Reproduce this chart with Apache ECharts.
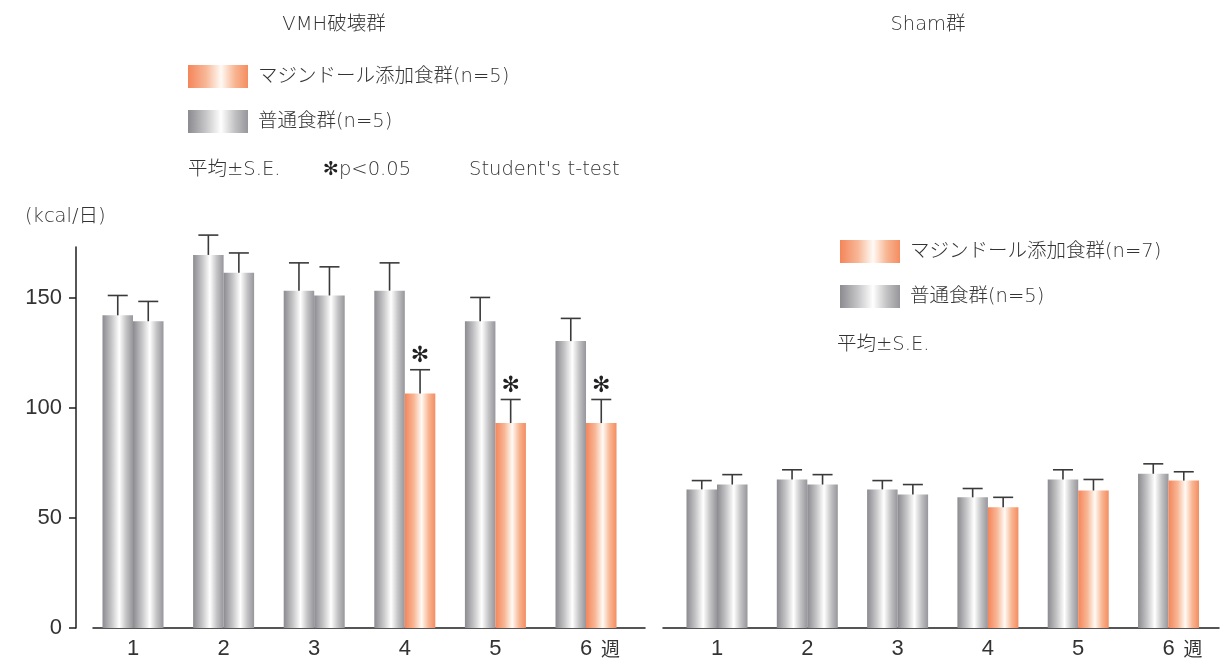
<!DOCTYPE html>
<html>
<head>
<meta charset="utf-8">
<script src="https://cdn.jsdelivr.net/npm/echarts@6/dist/echarts.min.js"></script>
<style>
  html, body { margin: 0; padding: 0; background: #ffffff; }
  #chart { width: 1221px; height: 660px; }
</style>
</head>
<body>
<div id="chart"></div>
<script>
// Weeks on the x axis
const weeks = [1, 2, 3, 4, 5, 6];
const weekLabels = ['1', '2', '3', '4', '5', '6'];
const yTicks = [0, 50, 100, 150];

// VMH lesion group (kcal/day), mean and S.E.
const vmhNormalMean = [141.9, 169.3, 153.1, 153.1, 139.2, 130.2];
const vmhNormalSE   = [9.0, 9.0, 12.6, 12.6, 10.8, 10.3];
const vmhMazMean    = [139.2, 161.2, 150.9, 106.4, 93.0, 93.0];
const vmhMazSE      = [9.0, 9.0, 13.0, 10.8, 10.7, 10.7];
const vmhMazSig     = [0, 0, 0, 1, 1, 1];

// Sham group (kcal/day), mean and S.E.
const shamNormalMean = [62.9, 67.4, 62.9, 59.3, 67.4, 70.0];
const shamNormalSE   = [4.0, 4.4, 4.0, 4.0, 4.4, 4.5];
const shamMazMean    = [65.1, 65.1, 60.6, 54.8, 62.4, 66.9];
const shamMazSE      = [4.5, 4.5, 4.5, 4.5, 5.0, 4.0];
const shamMazSig     = [0, 0, 0, 0, 0, 0];

// Mazindol diet is given from this week on (bars before it are drawn grey)
const mazStartWeek = 4;

const FONT = "'DejaVu Sans', 'Noto Sans CJK JP', sans-serif";
const NUM_FONT = "'Liberation Sans', Arial, sans-serif";
const CJK_FONT = "'Noto Sans CJK JP', sans-serif";
const TEXT = '#333333';
const BAR_W = 30.5;
const Y_MAX = 172.9;
const TXT = '200 19.5px ' + FONT;

function grayFill() {
  return new echarts.graphic.LinearGradient(0, 0, 1, 0, [
    { offset: 0, color: '#8b8b90' },
    { offset: 0.3, color: '#c6c6c8' },
    { offset: 0.55, color: '#ffffff' },
    { offset: 0.78, color: '#c2c2c4' },
    { offset: 1, color: '#96969b' }
  ]);
}
function orangeFill() {
  return new echarts.graphic.LinearGradient(0, 0, 1, 0, [
    { offset: 0, color: '#f4855a' },
    { offset: 0.3, color: '#f8b796' },
    { offset: 0.55, color: '#fffaf5' },
    { offset: 0.78, color: '#f8b592' },
    { offset: 1, color: '#f48d60' }
  ]);
}

function rows(means, ses, sig, isMaz) {
  return weeks.map((w, i) => [w, means[i], ses[i], sig ? sig[i] : 0,
    isMaz && w >= mazStartWeek ? 1 : 0]);
}

// side: -1 draws the bar left of the week centre, +1 right of it
function makeRenderer(side) {
  return function (params, api) {
    const x = api.value(0), v = api.value(1), se = api.value(2);
    const star = api.value(3), orange = api.value(4);
    const top = api.coord([x, v]);
    const base = api.coord([x, 0]);
    const err = api.coord([x, v + se]);
    const left = side < 0 ? top[0] - BAR_W : top[0];
    const cx = left + BAR_W / 2;
    const children = [
      { type: 'rect', shape: { x: left, y: top[1], width: BAR_W, height: base[1] - top[1] },
        style: { fill: orange ? orangeFill() : grayFill() } },
      { type: 'line', shape: { x1: cx, y1: top[1], x2: cx, y2: err[1] },
        style: { stroke: '#3a3a3a', lineWidth: 1.6 } },
      { type: 'line', shape: { x1: cx - 10, y1: err[1], x2: cx + 10, y2: err[1] },
        style: { stroke: '#3a3a3a', lineWidth: 1.6 } }
    ];
    if (star) {
      children.push({ type: 'text', x: cx, y: err[1] - 13,
        style: { text: '✻', fill: '#222', font: "bold 22px 'DejaVu Sans', sans-serif",
                 align: 'center', verticalAlign: 'middle' } });
    }
    return { type: 'group', children };
  };
}

const weekLabel = {
  customValues: weeks,
  margin: 10,
  color: TEXT,
  fontFamily: NUM_FONT,
  fontSize: 22,
  formatter: v => v === 6 ? '{p|}{n|' + weekLabels[5] + '}{u|  週}' : weekLabels[v - 1],
  rich: {
    p: { width: 28 },
    n: { fontSize: 22, fontFamily: NUM_FONT, color: TEXT },
    u: { fontSize: 19, fontFamily: CJK_FONT, color: TEXT, width: 28 }
  }
};

function xAxisFor(gridIndex, min, max) {
  return {
    type: 'value', gridIndex, min, max,
    axisLine: { show: true, lineStyle: { color: '#1e1e1e', width: 1.5 } },
    axisTick: { show: false },
    splitLine: { show: false },
    axisLabel: weekLabel
  };
}

function legendBlock(x, y, label1, label2) {
  return [
    { type: 'rect', left: x, top: y, shape: { width: 60, height: 23 }, style: { fill: orangeFill() } },
    { type: 'text', x: x + 70, y: y + 12, style: { text: label1, font: TXT, fill: TEXT, verticalAlign: 'middle' } },
    { type: 'rect', left: x, top: y + 45, shape: { width: 60, height: 23 }, style: { fill: grayFill() } },
    { type: 'text', x: x + 70, y: y + 57, style: { text: label2, font: TXT, fill: TEXT, verticalAlign: 'middle' } }
  ];
}

const chart = echarts.init(document.getElementById('chart'), null, { renderer: 'canvas' });

chart.setOption({
  backgroundColor: '#ffffff',
  animation: false,
  grid: [
    { left: 93, top: 247, width: 552, height: 385 },
    { left: 663, top: 247, width: 556, height: 385 }
  ],
  xAxis: [
    xAxisFor(0, 0.5585, 6.651),
    xAxisFor(1, 0.402, 6.559)
  ],
  yAxis: [
    {
      type: 'value', gridIndex: 0, min: 0, max: Y_MAX, offset: 17,
      axisLine: { show: true, lineStyle: { color: '#1e1e1e', width: 1.5 } },
      axisTick: { show: true, length: 7, customValues: yTicks, lineStyle: { color: '#1e1e1e', width: 1.5 } },
      splitLine: { show: false },
      axisLabel: { customValues: yTicks, margin: 14, color: TEXT, fontFamily: NUM_FONT, fontSize: 22 }
    },
    {
      type: 'value', gridIndex: 1, min: 0, max: Y_MAX, show: false,
      splitLine: { show: false }
    }
  ],
  series: [
    { type: 'custom', name: '普通食群', xAxisIndex: 0, yAxisIndex: 0,
      renderItem: makeRenderer(-1), data: rows(vmhNormalMean, vmhNormalSE, null, false) },
    { type: 'custom', name: 'マジンドール添加食群', xAxisIndex: 0, yAxisIndex: 0,
      renderItem: makeRenderer(1), data: rows(vmhMazMean, vmhMazSE, vmhMazSig, true) },
    { type: 'custom', name: '普通食群', xAxisIndex: 1, yAxisIndex: 1,
      renderItem: makeRenderer(-1), data: rows(shamNormalMean, shamNormalSE, null, false) },
    { type: 'custom', name: 'マジンドール添加食群', xAxisIndex: 1, yAxisIndex: 1,
      renderItem: makeRenderer(1), data: rows(shamMazMean, shamMazSE, shamMazSig, true) }
  ],
  graphic: [
    { type: 'text', x: 334, y: 25, style: { text: 'VMH破壊群', font: TXT, fill: TEXT, align: 'center', verticalAlign: 'middle' } },
    { type: 'text', x: 928, y: 25, style: { text: 'Sham群', font: TXT, fill: TEXT, align: 'center', verticalAlign: 'middle' } },
    ...legendBlock(188, 65, 'マジンドール添加食群(n=5)', '普通食群(n=5)'),
    { type: 'text', x: 188, y: 170, style: { text: '平均±S.E.', font: TXT, fill: TEXT, verticalAlign: 'middle' } },
    { type: 'text', x: 323, y: 170, style: {
        text: '{s|✻}p<0.05', font: TXT, fill: TEXT, verticalAlign: 'middle',
        rich: { s: { font: "bold 19px 'DejaVu Sans', sans-serif", fill: '#222' } } } },
    { type: 'text', x: 469, y: 170, style: { text: "Student's t-test", font: TXT, fill: TEXT, verticalAlign: 'middle' } },
    { type: 'text', x: 25, y: 217, style: { text: '(kcal/日)', font: TXT, fill: TEXT, verticalAlign: 'middle' } },
    ...legendBlock(840, 240, 'マジンドール添加食群(n=7)', '普通食群(n=5)'),
    { type: 'text', x: 837, y: 345, style: { text: '平均±S.E.', font: TXT, fill: TEXT, verticalAlign: 'middle' } }
  ]
});
</script>
</body>
</html>
